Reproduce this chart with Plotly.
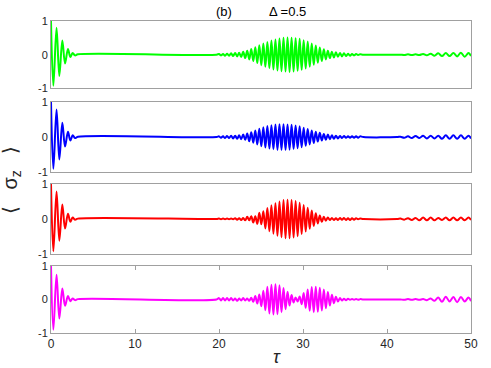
import plotly.graph_objects as go

# sigma_z extrema (time, value)
t_early = [0, 0.28, 0.66, 0.99, 1.35, 1.67, 2.02, 2.30, 2.58, 2.86, 3.2, 19.7]

green_early = [1, -0.92, 0.80, -0.63, 0.42, -0.26, 0.17, -0.07, 0.05, -0.02, 0.01, 0]
blue_early = [1, -0.91, 0.79, -0.64, 0.41, -0.27, 0.15, -0.10, 0.05, -0.03, 0.01, 0]
red_early = [1, -0.92, 0.78, -0.62, 0.41, -0.27, 0.15, -0.08, 0.04, -0.02, 0.01, 0]
magenta_early = [1, -0.90, 0.74, -0.57, 0.33, -0.19, 0.10, -0.05, 0.03, -0.02, 0.01, 0]

t_rev = [20.00, 20.24, 20.48, 20.72, 20.96, 21.20, 21.44, 21.68, 21.92, 22.16,
         22.40, 22.64, 22.88, 23.12, 23.36, 23.60, 23.84, 24.08, 24.32, 24.56,
         24.80, 25.04, 25.28, 25.52, 25.76, 26.00, 26.24, 26.48, 26.72, 26.96,
         27.20, 27.44, 27.68, 27.92, 28.16, 28.40, 28.64, 28.88, 29.12, 29.36,
         29.60, 29.84, 30.08, 30.32, 30.56, 30.80, 31.04, 31.28, 31.52, 31.76,
         32.00, 32.24, 32.48, 32.72, 32.96, 33.20, 33.44, 33.68, 33.92, 34.16,
         34.40, 34.64, 34.88, 35.12, 35.36, 35.60, 35.84, 36.08, 36.32, 36.56,
         36.80, 37.20, 41.20]

green_rev = [0.02, -0.02, 0.02, -0.03, 0.03, -0.03, 0.04, -0.04, 0.05, -0.05,
             0.06, -0.07, 0.09, -0.10, 0.12, -0.14, 0.17, -0.19, 0.22, -0.25,
             0.28, -0.31, 0.33, -0.36, 0.38, -0.40, 0.42, -0.44, 0.45, -0.47,
             0.48, -0.49, 0.50, -0.50, 0.51, -0.51, 0.50, -0.50, 0.49, -0.48,
             0.47, -0.45, 0.43, -0.41, 0.39, -0.36, 0.33, -0.30, 0.27, -0.24,
             0.21, -0.19, 0.16, -0.14, 0.12, -0.10, 0.09, -0.08, 0.07, -0.06,
             0.05, -0.05, 0.04, -0.04, 0.03, -0.03, 0.02, -0.02, 0.02, -0.01,
             0.01, 0, 0]

blue_rev = [0.02, -0.02, 0.02, -0.03, 0.03, -0.03, 0.04, -0.04, 0.04, -0.05,
            0.05, -0.06, 0.07, -0.08, 0.10, -0.12, 0.14, -0.16, 0.19, -0.21,
            0.24, -0.26, 0.28, -0.30, 0.32, -0.33, 0.34, -0.35, 0.36, -0.37,
            0.37, -0.37, 0.37, -0.37, 0.36, -0.36, 0.35, -0.34, 0.33, -0.32,
            0.31, -0.29, 0.27, -0.25, 0.23, -0.21, 0.19, -0.17, 0.15, -0.13,
            0.12, -0.10, 0.09, -0.08, 0.07, -0.06, 0.05, -0.05, 0.04, -0.04,
            0.03, -0.03, 0.03, -0.02, 0.02, -0.02, 0.02, -0.02, 0.02, -0.02,
            0.02, 0, 0]

red_rev = [0.01, -0.01, 0.01, -0.01, 0.01, -0.01, 0.01, -0.01, 0.02, -0.02,
           0.02, -0.03, 0.03, -0.04, 0.06, -0.04, 0.08, -0.10, 0.08, -0.14,
           0.18, -0.15, 0.22, -0.27, 0.31, -0.35, 0.39, -0.42, 0.45, -0.48,
           0.50, -0.52, 0.54, -0.55, 0.55, -0.55, 0.54, -0.53, 0.51, -0.49,
           0.46, -0.43, 0.40, -0.36, 0.32, -0.28, 0.24, -0.20, 0.16, -0.13,
           0.10, -0.08, 0.06, -0.05, 0.04, -0.03, 0.03, -0.03, 0.02, -0.03,
           0.03, -0.02, 0.03, -0.03, 0.02, -0.03, 0.02, -0.02, 0.02, -0.01,
           0.01, 0, 0]

magenta_rev = [0.04, -0.03, 0.04, -0.03, 0.04, -0.03, 0.04, -0.03, 0.03, -0.04,
               0.03, -0.03, 0.04, -0.03, 0.03, -0.04, 0.05, -0.07, 0.10, -0.12,
               0.15, -0.20, 0.26, -0.32, 0.38, -0.42, 0.44, -0.45, 0.45, -0.44,
               0.42, -0.38, 0.34, -0.29, 0.23, -0.18, 0.13, -0.09, 0.06, -0.06,
               0.09, -0.14, 0.19, -0.25, 0.30, -0.34, 0.37, -0.38, 0.38, -0.37,
               0.35, -0.33, 0.30, -0.26, 0.22, -0.18, 0.14, -0.11, 0.08, -0.06,
               0.04, -0.03, 0.02, -0.02, 0.02, -0.01, 0.01, -0.01, 0.01, -0.01,
               0.01, 0, 0]

t_tail = [41.60, 42.05, 42.50, 42.95, 43.40, 43.85, 44.30, 44.75, 45.20, 45.65,
          46.10, 46.55, 47.00, 47.45, 47.90, 48.35, 48.80, 49.25, 49.70, 50.00]

green_tail = [0, -0.01, 0.01, -0.01, 0.01, -0.01, 0.02, -0.02, 0.03, -0.03,
              0.04, -0.04, 0.05, -0.04, 0.05, -0.05, 0.06, -0.06, 0.05, -0.04]
blue_tail = [0.01, -0.02, 0.02, -0.03, 0.03, -0.03, 0.04, -0.04, 0.04, -0.04,
             0.04, -0.05, 0.05, -0.05, 0.05, -0.05, 0.05, -0.05, 0.04, -0.04]
red_tail = [0.01, -0.02, 0.02, -0.03, 0.03, -0.04, 0.04, -0.04, 0.04, -0.04,
            0.03, -0.03, 0.04, -0.04, 0.04, -0.04, 0.04, -0.04, 0.04, -0.03]
magenta_tail = [0, -0.01, 0.01, -0.01, 0.01, -0.01, 0.01, -0.02, 0.03, -0.04,
                0.06, -0.07, 0.08, -0.06, 0.07, -0.08, 0.07, -0.06, 0.06, -0.05]

panels = [
    ("#00ff00", green_early, green_rev, green_tail),
    ("#0000ff", blue_early, blue_rev, blue_tail),
    ("#ff0000", red_early, red_rev, red_tail),
    ("#ff00ff", magenta_early, magenta_rev, magenta_tail),
]

# y domains (top to bottom), read from pixel positions of the frames
domains = [[0.784, 1.0], [0.516, 0.740], [0.253, 0.478], [0.0, 0.215]]

frame = "#a0a0a0"
txt = "#262626"
fnt = "Liberation Sans, Arial, sans-serif"

fig = go.Figure()
layout = {}
for i, (col, early, rev, tail) in enumerate(panels):
    n = i + 1
    xa = "x" if n == 1 else "x%d" % n
    ya = "y" if n == 1 else "y%d" % n
    fig.add_trace(go.Scatter(
        x=t_early + t_rev + t_tail, y=early + rev + tail,
        mode="lines", line=dict(color=col, width=2, shape="spline", smoothing=1),
        xaxis=xa, yaxis=ya, showlegend=False, hoverinfo="skip"))
    bottom = (n == 4)
    layout["xaxis" if n == 1 else "xaxis%d" % n] = dict(
        domain=[0, 1], anchor=ya, range=[0, 50],
        showline=True, mirror="ticks" if bottom else True, linecolor=frame, linewidth=1,
        showgrid=False, zeroline=False,
        tickvals=[0, 10, 20, 30, 40, 50],
        ticks="inside" if bottom else "", ticklen=4, tickcolor=frame,
        showticklabels=bottom, tickfont=dict(size=12, color=txt, family=fnt))
    layout["yaxis" if n == 1 else "yaxis%d" % n] = dict(
        domain=domains[i], anchor=xa, range=[-1, 1],
        showline=True, mirror=True, linecolor=frame, linewidth=1,
        showgrid=False, zeroline=False,
        tickvals=[-1, 0, 1], ticktext=["-1", "0", "1"], ticks="",
        tickfont=dict(size=11, color=txt, family=fnt))

fig.update_layout(**layout)
fig.update_layout(
    width=491, height=368,
    margin=dict(l=51, r=20, t=21, b=35),
    paper_bgcolor="white", plot_bgcolor="white",
    font=dict(family=fnt, color=txt),
    annotations=[
        dict(text="(b)", x=0.412, y=1.029, xref="paper", yref="paper",
             xanchor="center", yanchor="middle",
             showarrow=False, font=dict(size=13, color="black")),
        dict(text="\u0394 =0.5", x=0.562, y=1.029, xref="paper", yref="paper",
             xanchor="center", yanchor="middle",
             showarrow=False, font=dict(size=13, color="black")),
        dict(text="\u27e8\u00a0\u00a0\u00a0\u03c3<sub>z</sub>\u00a0\u00a0\u00a0\u27e9", x=-0.095, y=0.49,
             xref="paper", yref="paper", xanchor="center", yanchor="middle",
             showarrow=False, textangle=-90,
             font=dict(size=20, color=txt)),
        dict(text="<i>\u03c4</i>", x=0.538, y=-0.077, xref="paper", yref="paper",
             xanchor="center", yanchor="middle",
             showarrow=False, font=dict(size=18, color=txt)),
    ],
)

fig.write_html("out.html", config={"displayModeBar": False},
               post_script="document.body.style.margin='0';")
